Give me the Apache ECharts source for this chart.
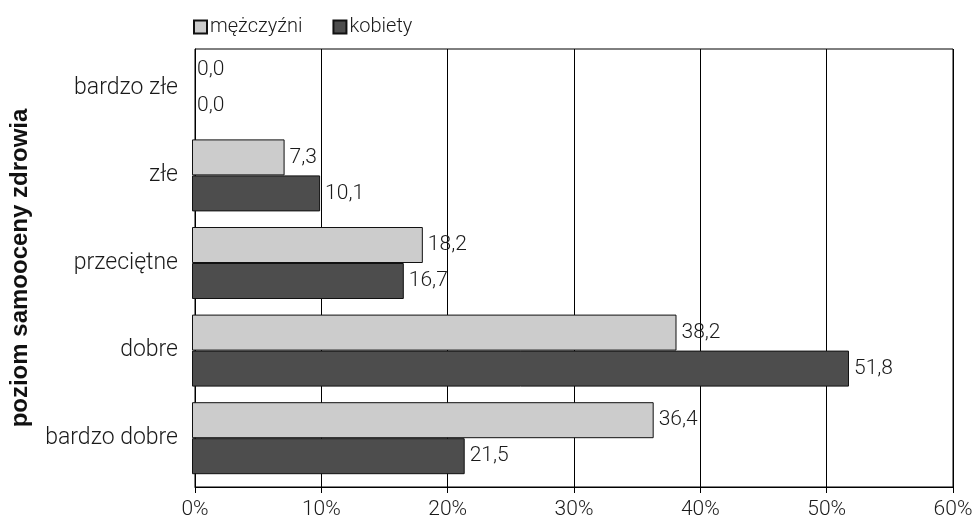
<!DOCTYPE html>
<html>
<head>
<meta charset="utf-8">
<script src="https://cdn.jsdelivr.net/npm/echarts@6/dist/echarts.min.js"></script>
<style>
  html, body { margin: 0; padding: 0; background: #fff; }
  #chart { width: 977px; height: 520px; }
</style>
</head>
<body>
<div id="chart"></div>
<script>
// Self-rated health level by sex (% of respondents)
const categories = ['bardzo złe', 'złe', 'przeciętne', 'dobre', 'bardzo dobre'];
const men = [0.0, 7.3, 18.2, 38.2, 36.4];
const women = [0.0, 10.1, 16.7, 51.8, 21.5];
const xTicks = [0, 10, 20, 30, 40, 50, 60];
const seriesNames = ['mężczyźni', 'kobiety'];
const axisTitle = 'poziom samooceny zdrowia';

const FONT = 'Roboto';
const TEXT = '#1a1a1a';
const fmt = v => v.toFixed(1).replace('.', ',');

// zero-length bars get no outline so the axis stays a single hairline
const toItems = arr => arr.map(v => (v === 0 ? { value: v, itemStyle: { borderWidth: 0 } } : v));

const chart = echarts.init(document.getElementById('chart'));

const labelStyle = {
  show: true,
  position: 'right',
  distance: 5,
  fontFamily: FONT,
  fontWeight: 300,
  fontSize: 21,
  color: TEXT,
  formatter: p => fmt(p.value)
};

chart.setOption({
  animation: false,
  textStyle: { fontFamily: FONT },
  legend: {
    data: seriesNames,
    left: 188,
    top: 12,
    itemWidth: 13,
    itemHeight: 13,
    itemGap: 30,
    icon: 'rect',
    textStyle: { fontFamily: FONT, fontWeight: 300, fontSize: 20, color: TEXT, padding: [0, 0, 0, -2] }
  },
  grid: [
    // frame with value axis and gridlines
    { left: 192, right: 24, top: 49, bottom: 33, show: true, borderColor: '#000', borderWidth: 1, backgroundColor: 'transparent' },
    // bars and category labels
    { left: 192, right: 24, top: 44, bottom: 38 }
  ],
  xAxis: [
    {
      gridIndex: 0,
      type: 'value',
      min: xTicks[0],
      max: xTicks[xTicks.length - 1],
      interval: 10,
      axisLine: { show: true, lineStyle: { color: '#000', width: 1 } },
      axisTick: { show: true, length: 6, lineStyle: { color: '#000' } },
      splitLine: { show: true, lineStyle: { color: '#000', width: 1 } },
      axisLabel: { formatter: '{value}%', fontFamily: FONT, fontWeight: 300, fontSize: 21, color: TEXT, margin: 12 }
    },
    {
      gridIndex: 1,
      type: 'value',
      min: xTicks[0],
      max: xTicks[xTicks.length - 1],
      interval: 10,
      show: false
    }
  ],
  yAxis: [
    {
      gridIndex: 0,
      type: 'category',
      data: categories,
      inverse: true,
      show: true,
      axisLine: { show: true, onZero: false, lineStyle: { color: '#000', width: 1 } },
      axisTick: { show: false },
      axisLabel: { show: false },
      name: axisTitle,
      nameLocation: 'middle',
      nameRotate: 90,
      nameGap: 163,
      nameTextStyle: { fontFamily: 'Liberation Sans', fontWeight: 'bold', fontSize: 24, color: '#111' }
    },
    {
      gridIndex: 1,
      type: 'category',
      data: categories,
      inverse: true,
      axisLine: { show: false },
      axisTick: { show: false },
      axisLabel: { fontFamily: FONT, fontWeight: 300, fontSize: 23, color: TEXT, margin: 14 }
    }
  ],
  series: [
    {
      name: seriesNames[0],
      type: 'bar',
      xAxisIndex: 1,
      yAxisIndex: 1,
      data: toItems(men),
      barWidth: 36,
      barGap: '0%',
      itemStyle: { color: '#cccccc', borderColor: '#111', borderWidth: 1 },
      label: labelStyle
    },
    {
      name: seriesNames[1],
      type: 'bar',
      xAxisIndex: 1,
      yAxisIndex: 1,
      data: toItems(women),
      barWidth: 36,
      barGap: '0%',
      itemStyle: { color: '#4d4d4d', borderColor: '#111', borderWidth: 1 },
      label: labelStyle
    }
  ]
});
</script>
</body>
</html>
